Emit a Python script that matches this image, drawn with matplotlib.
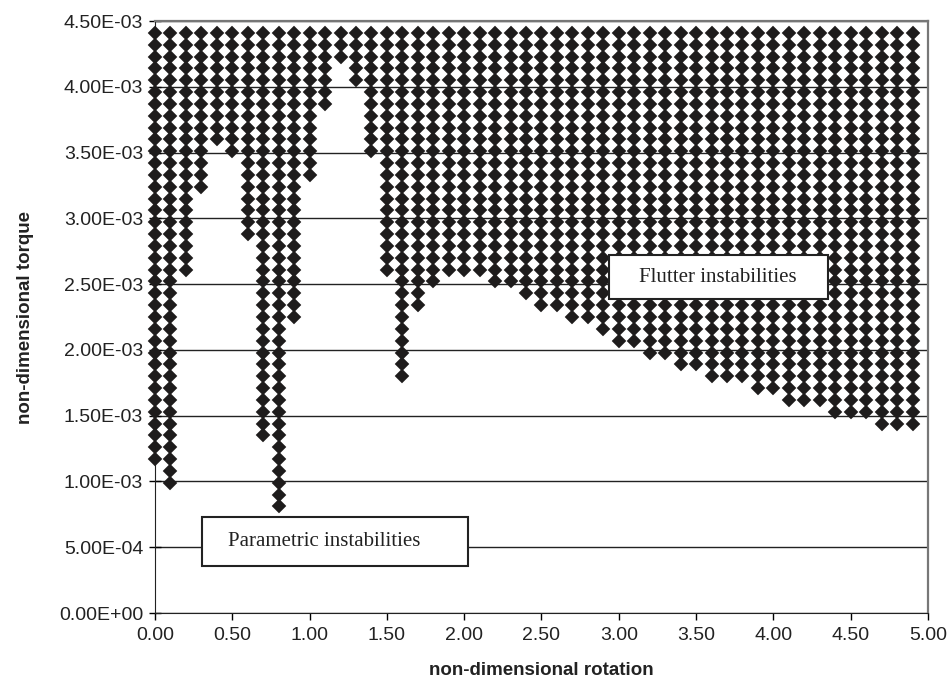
import matplotlib
matplotlib.use('Agg')
import matplotlib.pyplot as plt
import numpy as np
from matplotlib.ticker import FuncFormatter, MultipleLocator
from matplotlib.patches import Rectangle

# non-dimensional rotation of each computed column
rotation = [0.0, 0.1, 0.2, 0.3, 0.4, 0.5, 0.6, 0.7, 0.8, 0.9,
            1.0, 1.1, 1.2, 1.3, 1.4, 1.5, 1.6, 1.7, 1.8, 1.9,
            2.0, 2.1, 2.2, 2.3, 2.4, 2.5, 2.6, 2.7, 2.8, 2.9,
            3.0, 3.1, 3.2, 3.3, 3.4, 3.5, 3.6, 3.7, 3.8, 3.9,
            4.0, 4.1, 4.2, 4.3, 4.4, 4.5, 4.6, 4.7, 4.8, 4.9]

# lowest unstable torque found in each column
lowest_torque = [1.17e-3, 0.99e-3, 2.61e-3, 3.24e-3, 3.60e-3, 3.51e-3, 2.88e-3, 1.35e-3, 0.81e-3, 2.25e-3,
                 3.33e-3, 3.87e-3, 4.23e-3, 4.05e-3, 3.51e-3, 2.61e-3, 1.80e-3, 2.34e-3, 2.52e-3, 2.61e-3,
                 2.61e-3, 2.61e-3, 2.52e-3, 2.52e-3, 2.43e-3, 2.34e-3, 2.34e-3, 2.25e-3, 2.25e-3, 2.16e-3,
                 2.07e-3, 2.07e-3, 1.98e-3, 1.98e-3, 1.89e-3, 1.89e-3, 1.80e-3, 1.80e-3, 1.80e-3, 1.71e-3,
                 1.71e-3, 1.62e-3, 1.62e-3, 1.62e-3, 1.53e-3, 1.53e-3, 1.53e-3, 1.44e-3, 1.44e-3, 1.44e-3]

# torque sampling grid used for the stability scan
torque_step = 0.09e-3
torque_levels = torque_step * np.arange(1, 50)

# build the unstable points: every grid level at or above the lowest one
xs, ys = [], []
for r, t_min in zip(rotation, lowest_torque):
    sel = torque_levels[torque_levels >= t_min - torque_step / 2]
    xs.extend([r] * len(sel))
    ys.extend(sel)

fig = plt.figure(figsize=(9.49, 6.87), dpi=100)
ax = fig.add_axes([0.1633, 0.1077, 0.8146, 0.8617])

ax.grid(axis='y', color='#222222', linewidth=1.0, zorder=1)
ax.set_axisbelow(True)

ax.plot(xs, ys, linestyle='none', marker='D', markersize=7.2,
        color='#1e1c1c', markeredgewidth=0.3, zorder=3, clip_on=False)

ax.set_xlim(0, 5)
ax.set_ylim(0, 4.5e-3)
ax.xaxis.set_major_locator(MultipleLocator(0.5))
ax.yaxis.set_major_locator(MultipleLocator(0.5e-3))
ax.xaxis.set_major_formatter(FuncFormatter(lambda v, p: f"{v:.2f}"))
ax.yaxis.set_major_formatter(FuncFormatter(lambda v, p: f"{v:.2E}"))

tick_font = ['Liberation Sans', 'DejaVu Sans']
for lab in ax.get_xticklabels() + ax.get_yticklabels():
    lab.set_family(tick_font)
    lab.set_fontsize(14)
    lab.set_color('#222222')

ax.tick_params(axis='x', direction='out', length=5, width=1, pad=5)
ax.tick_params(axis='y', direction='inout', length=9, width=1, pad=4)

ax.spines['left'].set_color('#222222')
ax.spines['bottom'].set_color('#222222')
for s in ['top', 'right']:
    ax.spines[s].set_color('#777777')
    ax.spines[s].set_linewidth(1.6)

ax.set_xlabel('non-dimensional rotation', fontsize=13.5, fontweight='bold',
              family=['Liberation Sans', 'DejaVu Sans'], labelpad=13, color='#222222')
ax.set_ylabel('non-dimensional torque', fontsize=13.5, fontweight='bold',
              family=['Liberation Sans', 'DejaVu Sans'], labelpad=18, color='#222222')

# annotation boxes
serif = ['Liberation Serif', 'DejaVu Serif']
ax.add_patch(Rectangle((0.587, 0.530), 0.284, 0.075, transform=ax.transAxes,
                       facecolor='white', edgecolor='#222222', linewidth=1.5, zorder=5))
ax.text(0.6255, 0.5675, 'Flutter instabilities', transform=ax.transAxes,
        ha='left', va='center', fontsize=15, family=serif, color='#222222', zorder=6)

ax.add_patch(Rectangle((0.0604, 0.080), 0.3446, 0.083, transform=ax.transAxes,
                       facecolor='white', edgecolor='#222222', linewidth=1.5, zorder=5))
ax.text(0.0945, 0.1215, 'Parametric instabilities', transform=ax.transAxes,
        ha='left', va='center', fontsize=15, family=serif, color='#222222', zorder=6)

fig.savefig('out.png', dpi=100)
